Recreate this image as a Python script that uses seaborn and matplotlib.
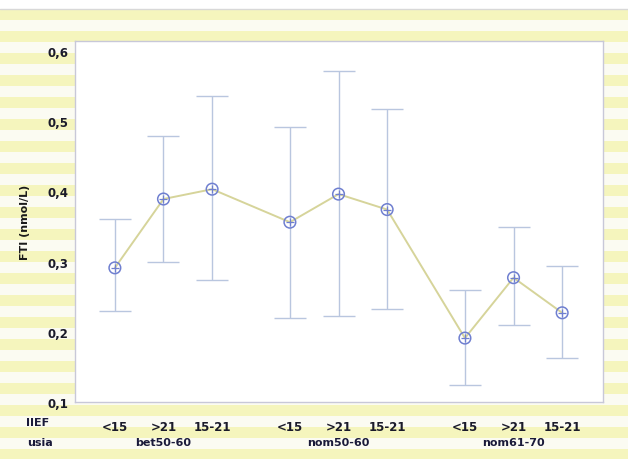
import matplotlib
matplotlib.use("Agg")
import matplotlib.pyplot as plt
from matplotlib.patches import Rectangle
from matplotlib.ticker import FuncFormatter
import numpy as np
import pandas as pd
import seaborn as sns

# Age groups (usia) and IIEF score categories
age_groups = ["bet50-60", "nom50-60", "nom61-70"]
iief_levels = ["<15", ">21", "15-21"]

# Mean FTI (nmol/L) and interval bounds per age group x IIEF category
fti_mean = [0.291, 0.389, 0.403, 0.356, 0.396, 0.374, 0.191, 0.277, 0.227]
fti_low = [0.229, 0.299, 0.274, 0.220, 0.223, 0.233, 0.124, 0.210, 0.163]
fti_high = [0.360, 0.479, 0.536, 0.491, 0.571, 0.517, 0.260, 0.349, 0.293]

y_ticks = [0.1, 0.2, 0.3, 0.4, 0.5, 0.6]

sns.set_theme(style="white")
plt.rcParams["font.family"] = ["DejaVu Sans"]

rows = []
for g, grp in enumerate(age_groups):
    for k, lvl in enumerate(iief_levels):
        i = g * len(iief_levels) + k
        rows.append({"usia": grp, "IIEF": lvl, "pos": g * 3.6 + k,
                     "FTI": fti_mean[i], "low": fti_low[i], "high": fti_high[i]})
df = pd.DataFrame(rows)

fig = plt.figure(figsize=(6.28, 4.6), dpi=100)
fig.patch.set_facecolor("white")

# striped panel background
stripe_h = 11 / 460
y = 1 - 10 / 460
n = 0
while y > 0:
    color = "#f5f5bd" if n % 2 == 0 else "#fbfbf2"
    fig.patches.append(Rectangle((0, max(y - stripe_h, 0)), 1, min(stripe_h, y),
                                 transform=fig.transFigure, facecolor=color,
                                 edgecolor="none", zorder=-10))
    y -= stripe_h
    n += 1
fig.add_artist(plt.Line2D([0, 1], [1 - 10 / 460] * 2, transform=fig.transFigure,
                          color="#d8d8d8", lw=1))

ax = fig.add_axes([75 / 628, 57 / 460, 528 / 628, 361 / 460])
ax.set_facecolor("white")

err_color = "#b9c6df"
ax.errorbar(df["pos"], df["FTI"],
            yerr=[df["FTI"] - df["low"], df["high"] - df["FTI"]],
            fmt="none", ecolor=err_color, elinewidth=1.0, capsize=11.5,
            capthick=1.0, zorder=2)

sns.lineplot(data=df, x="pos", y="FTI", ax=ax, color="#d6d49a", lw=1.4,
             sort=False, zorder=3)
sns.scatterplot(data=df, x="pos", y="FTI", ax=ax, marker="o", s=70,
                facecolor="none", edgecolor="#6f7fd0", linewidth=1.1, zorder=4)
sns.scatterplot(data=df, x="pos", y="FTI", ax=ax, marker="+", s=28,
                color="#6f7fd0", linewidth=0.9, zorder=5)

ax.set_xlim(-0.82, 10.04)
ax.set_ylim(0.1, 0.614)
ax.set_yticks(y_ticks)
ax.yaxis.set_major_formatter(FuncFormatter(lambda v, p: f"{v:.1f}".replace(".", ",")))
ax.set_xticks(df["pos"])
ax.set_xticklabels(df["IIEF"])
ax.set_xlabel("")
ax.set_ylabel("FTI (nmol/L)", fontsize=8, fontweight="bold", color="#1a1a1a")
ax.yaxis.set_label_coords(-0.086, 0.5)

ax.tick_params(axis="both", length=3, width=0.8, color="#b8b8c8",
               labelsize=8.5, labelcolor="#1a1a2a", pad=2)
for lab in ax.get_xticklabels() + ax.get_yticklabels():
    lab.set_fontweight("bold")
ax.tick_params(axis="x", pad=10)

for s in ax.spines.values():
    s.set_color("#c8c8d8")
    s.set_linewidth(1.0)

# row headers and age-group labels under the category ticks
fig.text(38 / 628, 1 - 423 / 460, "IIEF", fontsize=8, fontweight="bold",
         color="#1a1a3a", ha="center", va="center")
fig.text(40 / 628, 1 - 443 / 460, "usia", fontsize=8, fontweight="bold",
         color="#1a1a3a", ha="center", va="center")
for g, grp in enumerate(age_groups):
    center = df.loc[df["usia"] == grp, "pos"].mean()
    ax.text(center, -40 / 361, grp, transform=ax.get_xaxis_transform(),
            fontsize=8, fontweight="bold", color="#1a1a3a",
            ha="center", va="center")

fig.savefig("out.png", dpi=100, facecolor=fig.get_facecolor())
